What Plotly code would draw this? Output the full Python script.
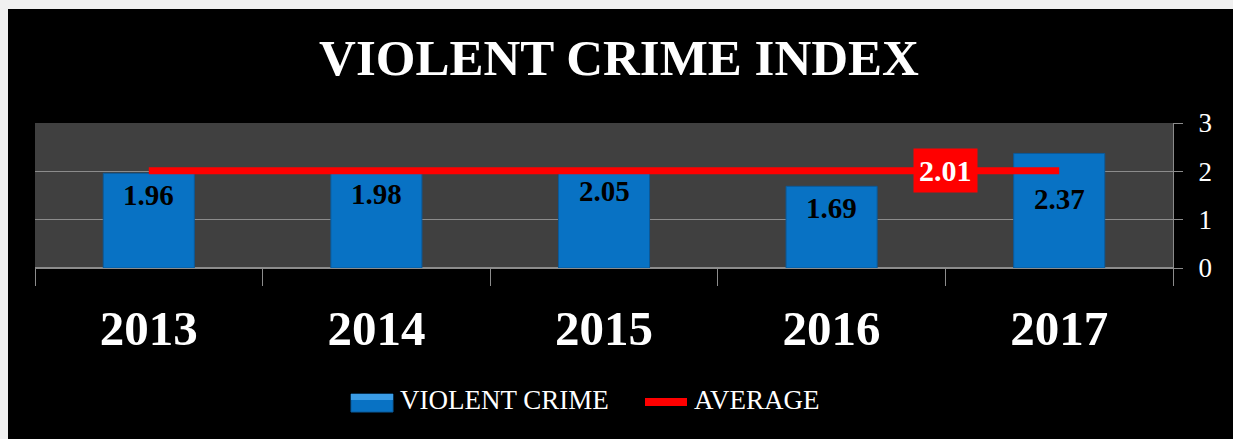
import plotly.graph_objects as go

years = ["2013", "2014", "2015", "2016", "2017"]
violent_crime = [1.96, 1.98, 2.05, 1.69, 2.37]
average = [2.01, 2.01, 2.01, 2.01, 2.01]
avg_label = "2.01"
y_ticks = [0, 1, 2, 3]
series_names = ["VIOLENT CRIME", "AVERAGE"]

# label vertical offsets (px, style only)
label_shift = [-22, -22, -22, -22, -46]

W, H = 1233, 439
L, R, T, B = 35, 60, 123, 171
pw, ph = W - L - R, H - T - B

def px_x(p):
    return (p - L) / pw

def px_y(p):
    return (H - B - p) / ph

SERIF = "Liberation Serif"
GRID = "#8c8c8c"
BLUE = "#0872c4"
RED = "#ff0000"

xpos = list(range(len(years)))
bounds = [i - 0.5 for i in range(len(years) + 1)]

fig = go.Figure()
fig.add_trace(go.Bar(
    x=xpos, y=violent_crime, name=series_names[0], width=0.4,
    marker=dict(color=BLUE, line=dict(color="#0b5a9a", width=1)),
))
fig.add_trace(go.Scatter(
    x=xpos, y=average, name=series_names[1], mode="lines",
    line=dict(color=RED, width=7),
))

annotations = []
for xi, v, s in zip(xpos, violent_crime, label_shift):
    annotations.append(dict(
        x=xi, y=v, xref="x", yref="y", text=f"{v:.2f}", showarrow=False,
        yshift=s, font=dict(family=SERIF, size=29, color="black", weight="bold"),
    ))
annotations.append(dict(
    x=xpos[-1] - 0.5, y=average[-1], xref="x", yref="y", text=avg_label, showarrow=False,
    bgcolor=RED, borderpad=5,
    font=dict(family=SERIF, size=30, color="white", weight="bold"),
))
# custom legend text
annotations.append(dict(x=px_x(398), y=px_y(400), xref="paper", yref="paper", xanchor="left",
                        yanchor="middle", text=series_names[0], showarrow=False,
                        font=dict(family=SERIF, size=27, color="white")))
annotations.append(dict(x=px_x(692), y=px_y(400), xref="paper", yref="paper", xanchor="left",
                        yanchor="middle", text=series_names[1], showarrow=False,
                        font=dict(family=SERIF, size=27, color="white")))

shapes = [
    dict(type="rect", xref="paper", yref="paper", x0=px_x(0), x1=px_x(W), y0=px_y(0), y1=px_y(9),
         fillcolor="#f0f0f0", line=dict(width=0), layer="above"),
    dict(type="rect", xref="paper", yref="paper", x0=px_x(0), x1=px_x(8), y0=px_y(0), y1=px_y(H),
         fillcolor="#f0f0f0", line=dict(width=0), layer="above"),
    # legend symbols
    dict(type="rect", xref="paper", yref="paper", x0=px_x(351), x1=px_x(393), y0=px_y(412), y1=px_y(394),
         fillcolor=BLUE, line=dict(color="#0b5a9a", width=1), layer="above"),
    dict(type="rect", xref="paper", yref="paper", x0=px_x(351), x1=px_x(393), y0=px_y(400), y1=px_y(394),
         fillcolor="#3a9ce6", line=dict(width=0), layer="above"),
    dict(type="line", xref="paper", yref="paper", x0=px_x(645), x1=px_x(687), y0=px_y(402), y1=px_y(402),
         line=dict(color=RED, width=8), layer="above"),
]

fig.update_layout(
    width=W, height=H,
    margin=dict(l=L, r=R, t=T, b=B),
    paper_bgcolor="black",
    plot_bgcolor="#404040",
    title=dict(text="VIOLENT CRIME INDEX", x=619 / W, xanchor="center",
               y=1 - 57 / H, yanchor="middle",
               font=dict(family=SERIF, size=51, color="white", weight="bold")),
    showlegend=False,
    xaxis=dict(range=[bounds[0], bounds[-1]], tickvals=xpos, ticktext=years, ticks="",
               showline=True, linecolor=GRID, showgrid=False, zeroline=False,
               tickfont=dict(family=SERIF, size=49, color="white", weight="bold"),
               ticklabelstandoff=17,
               minor=dict(tickvals=bounds, ticks="outside", ticklen=17, tickcolor=GRID,
                          showgrid=False)),
    yaxis=dict(side="right", range=[0, 3], tickvals=y_ticks, ticks="outside", ticklen=9,
               tickcolor=GRID, showline=True, linecolor=GRID, gridcolor=GRID,
               zeroline=True, zerolinecolor=GRID,
               tickfont=dict(family=SERIF, size=27, color="white"), ticklabelstandoff=10),
    annotations=annotations,
    shapes=shapes,
)

fig.write_html("out.html")
